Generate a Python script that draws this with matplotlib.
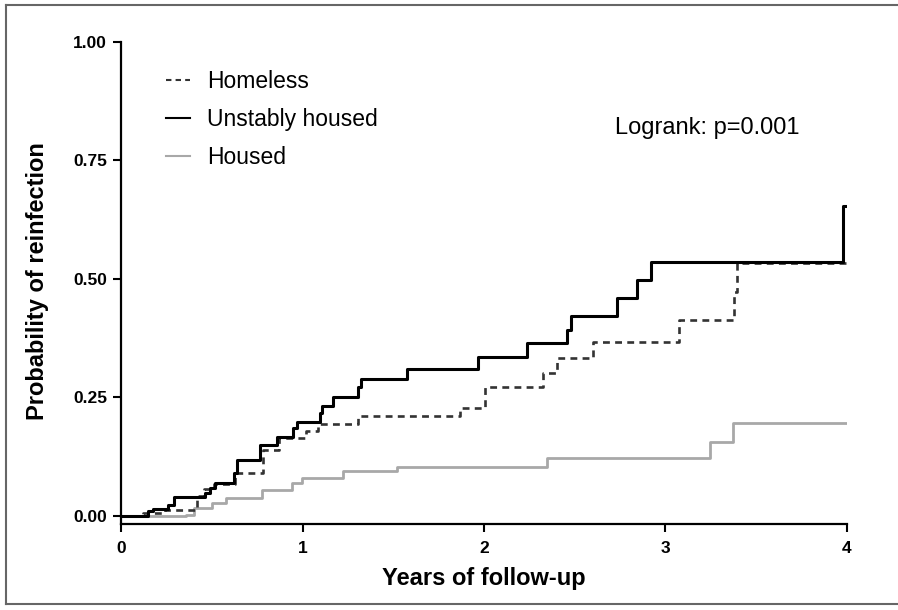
import matplotlib
matplotlib.use("Agg")
import matplotlib.pyplot as plt
from matplotlib.lines import Line2D

plt.rcParams['font.family'] = ['Liberation Sans', 'DejaVu Sans']

# Data
unstable_t = [0, 0.15, 0.178, 0.26, 0.294, 0.463, 0.49, 0.518, 0.62, 0.64, 0.766, 0.858,
              0.95, 0.968, 1.096, 1.106, 1.17, 1.307, 1.32, 1.576, 1.965, 2.235, 2.459,
              2.478, 2.731, 2.845, 2.918, 3.978, 4.0]
unstable_p = [0, 0.011, 0.015, 0.023, 0.039, 0.048, 0.058, 0.07, 0.09, 0.118, 0.15, 0.166,
              0.185, 0.199, 0.217, 0.231, 0.252, 0.272, 0.289, 0.311, 0.335, 0.364, 0.392,
              0.422, 0.459, 0.498, 0.536, 0.653, 0.653]

homeless_t = [0, 0.12, 0.24, 0.42, 0.46, 0.51, 0.63, 0.78, 0.87, 1.02, 1.085, 1.305, 1.868,
              2.006, 2.327, 2.40, 2.602, 3.076, 3.377, 3.392, 4.0]
homeless_p = [0, 0.006, 0.013, 0.042, 0.056, 0.068, 0.091, 0.140, 0.165, 0.179, 0.194, 0.21,
              0.228, 0.272, 0.302, 0.333, 0.367, 0.4135, 0.473, 0.533, 0.533]

housed_t = [0, 0.36, 0.40, 0.50, 0.58, 0.775, 0.94, 0.995, 1.225, 1.519, 2.345, 3.245, 3.37, 4.0]
housed_p = [0, 0.003, 0.016, 0.027, 0.038, 0.055, 0.069, 0.0795, 0.095, 0.104, 0.123, 0.155,
            0.196, 0.196]

x_ticks = [0, 1, 2, 3, 4]
y_ticks = [0.0, 0.25, 0.5, 0.75, 1.0]
y_tick_labels = ["0.00", "0.25", "0.50", "0.75", "1.00"]

W, H = 898, 610
fig = plt.figure(figsize=(W / 100, H / 100), dpi=100)
ax = fig.add_axes([121 / W, (H - 524) / H, 726 / W, 482 / H])

ax.step(homeless_t, homeless_p, where='post', color='#333333', lw=1.9,
        linestyle=(0, (2.6, 2.0)), label='Homeless', zorder=3)
ax.step(unstable_t, unstable_p, where='post', color='black', lw=2.2,
        label='Unstably housed', zorder=4)
ax.step(housed_t, housed_p, where='post', color='#a8a8a8', lw=2.0,
        label='Housed', zorder=2)

ax.set_xlim(0, 4)
ax.set_ylim(-0.017, 1.0)
ax.set_xticks(x_ticks)
ax.set_xticklabels([str(v) for v in x_ticks])
ax.set_yticks(y_ticks)
ax.set_yticklabels(y_tick_labels)

for s in ['top', 'right']:
    ax.spines[s].set_visible(False)
for s in ['left', 'bottom']:
    ax.spines[s].set_linewidth(1.6)

ax.tick_params(axis='both', width=1.5, length=6, direction='out', labelsize=12.5)
ax.tick_params(axis='x', pad=6)
ax.tick_params(axis='y', pad=4)
for lab in ax.get_xticklabels() + ax.get_yticklabels():
    lab.set_fontweight('bold')

fig.text(484 / W, 1 - 578 / H, 'Years of follow-up', ha='center', va='center',
         fontsize=17, fontweight='bold')
fig.text(38 / W, 1 - 281 / H, 'Probability of reinfection', ha='center', va='center',
         rotation=90, fontsize=17, fontweight='bold')

leg = ax.legend(loc='upper left', bbox_to_anchor=(148 / W, 1 - 52 / H),
                bbox_transform=fig.transFigure, frameon=False, fontsize=16.5,
                handlelength=1.05, handletextpad=0.72, labelspacing=0.64,
                borderpad=0.3)
for line in leg.get_lines():
    line.set_linewidth(1.5)

ax.text(615 / W, 1 - 128 / H, 'Logrank: p=0.001', transform=fig.transFigure,
        ha='left', va='center', fontsize=17)

# outer frame (top, left, bottom)
frame_kw = dict(transform=fig.transFigure, color='#666666', lw=1.5)
fig.lines.append(Line2D([6 / W, 1.01], [1 - 5 / H, 1 - 5 / H], **frame_kw))
fig.lines.append(Line2D([6 / W, 6 / W], [1 - 5 / H, 1 - 604 / H], **frame_kw))
fig.lines.append(Line2D([6 / W, 1.01], [1 - 604 / H, 1 - 604 / H], **frame_kw))

fig.savefig('out.png', dpi=100)
